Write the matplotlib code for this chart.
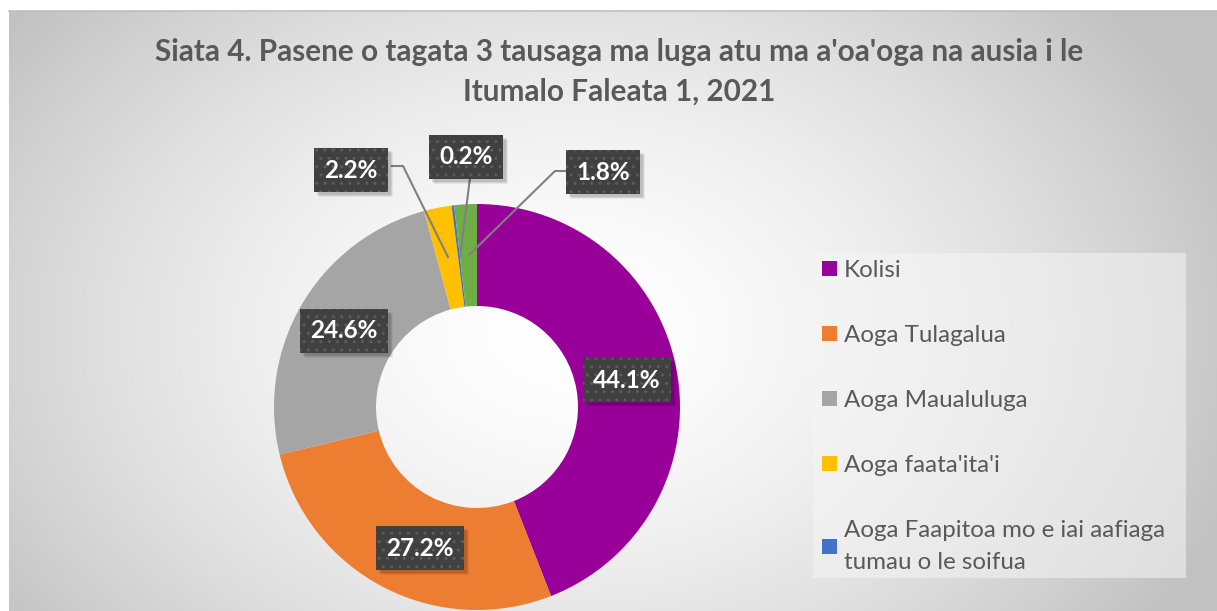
import numpy as np
import matplotlib
matplotlib.use("Agg")
from matplotlib import pyplot as plt
from matplotlib.patches import Rectangle


# data
labels = ["Kolisi", "Aoga Tulagalua", "Aoga Maualuluga", "Aoga faata'ita'i",
          "Aoga Faapitoa mo e iai aafiaga\ntumau o le soifua", "Isi"]
values = [44.1, 27.2, 24.6, 2.2, 0.2, 1.8]
pct_text = ["44.1%", "27.2%", "24.6%", "2.2%", "0.2%", "1.8%"]
colors = ["#990099", "#ED7D31", "#A5A5A5", "#FFC000", "#4472C4", "#70AD47"]

title = "Siata 4. Pasene o tagata 3 tausaga ma luga atu ma a'oa'oga na ausia i le\nItumalo Faleata 1, 2021"

W, H = 1217, 611
fig = plt.figure(figsize=(W / 100, H / 100), dpi=100)
ax = fig.add_axes([0, 0, 1, 1])
ax.set_xlim(0, W)
ax.set_ylim(0, H)
ax.axis("off")

# radial grey background of chart area
x0 = 9
yy, xx = np.mgrid[0:H - 11, 0:W - x0]
cx, cy = 560, 320
d = np.sqrt(((xx - cx) / 720.0) ** 2 + ((yy - cy) / 520.0) ** 2)
g = np.clip(1.0 - 0.25 * d ** 1.6, 0.76, 1.0)
bg = np.dstack([g, g, g])
ax.imshow(bg, extent=[x0, W, 0, H - 11], origin="upper", zorder=0, aspect="auto")
ax.plot([x0, W], [H - 11, H - 11], color="#bfbfbf", lw=1.2, zorder=1)

# donut
wedges, _ = ax.pie(values, colors=colors, startangle=90, counterclock=False,
                   center=(477, 204), radius=203,
                   wedgeprops=dict(width=102, linewidth=0), frame=True)
for w in wedges:
    w.set_zorder(2)
ax.set_xlim(0, W)
ax.set_ylim(0, H)
ax.set_aspect("equal")
ax.axis("off")

# label boxes (pixel positions measured from top)
lab_pos = [(627, 380), (420, 548), (344, 331), (351, 170), (466, 157), (603, 172)]
boxes = []
for (px, py), t in zip(lab_pos, pct_text):
    txt = ax.text(px, H - py, t, ha="center", va="center", color="white",
                  fontsize=17.5, fontweight="bold", family="Lato", zorder=5,
                  bbox=dict(boxstyle="square,pad=0.42", facecolor="#404040",
                            edgecolor="#5c5c5c", linewidth=0, hatch=".."))
    boxes.append(txt)

# leader lines
leaders = [
    [(392, 166), (403, 166), (448, 257)],
    [(470, 178), (460, 257)],
    [(565, 171), (555, 171), (469, 255)],
]
for pts in leaders:
    xs = [p[0] for p in pts]
    ys = [H - p[1] for p in pts]
    ax.plot(xs, ys, color="#808080", lw=1.5, zorder=3)

# title
ax.text(619, H - 72, title, ha="center", va="center", fontsize=21.4,
        fontweight="bold", color="#595959", family="Lato", linespacing=1.5,
        zorder=5)

# legend
ax.add_patch(Rectangle((813, H - 578), 373, 325, facecolor="#f5f5f5",
                       alpha=0.55, edgecolor="none", zorder=1))
leg = ax.legend(wedges[:5], labels[:5], loc="upper left",
                bbox_to_anchor=(822 / W, 1 - 260 / H), frameon=False,
                prop=dict(family="Lato", size=17.4), labelcolor="#595959",
                handlelength=0.62, handleheight=0.62, handletextpad=0.3,
                labelspacing=1.82, borderaxespad=0, borderpad=0)
for t in leg.get_texts():
    t.set_linespacing(1.65)

# soft shadows behind label boxes
fig.canvas.draw()
inv = ax.transData.inverted()
for txt in boxes:
    bb = txt.get_bbox_patch().get_window_extent()
    (bx0, by0), (bx1, by1) = inv.transform([(bb.x0, bb.y0), (bb.x1, bb.y1)])
    for k, a in [(5, 0.06), (4, 0.08), (3, 0.1)]:
        ax.add_patch(Rectangle((bx0 + k, by0 - k), bx1 - bx0, by1 - by0,
                               facecolor="black", alpha=a, edgecolor="none",
                               zorder=4))

fig.savefig("out.png", dpi=100, facecolor="white")
